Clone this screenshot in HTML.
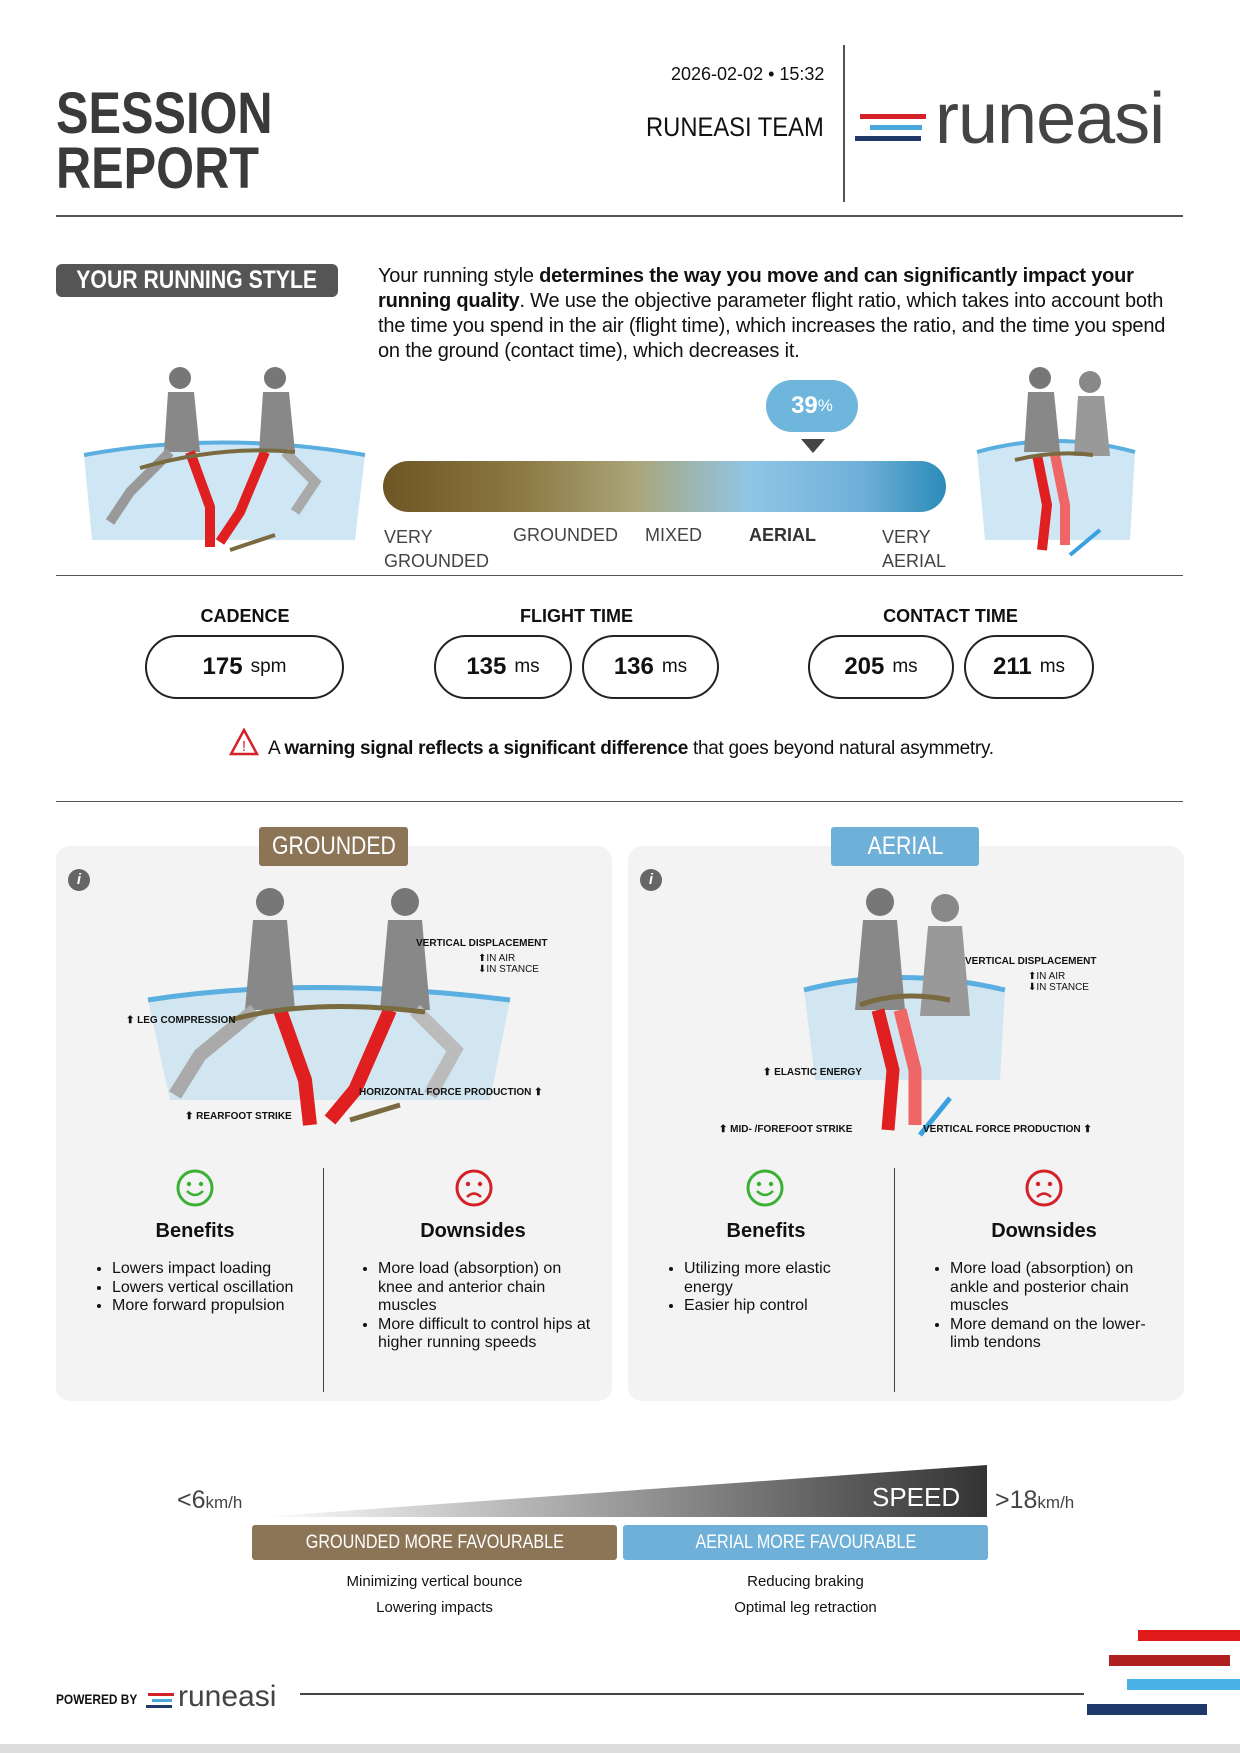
<!DOCTYPE html>
<html><head><meta charset="utf-8"><style>
*{margin:0;padding:0;box-sizing:border-box}
body{width:1240px;height:1753px;position:relative;background:#fff;font-family:"Liberation Sans",sans-serif;color:#111;overflow:hidden}
.a{position:absolute}
.rule{position:absolute;left:56px;width:1127px;height:2px;background:#555}
.pill{position:absolute;height:64px;border:2px solid #222;border-radius:32px;display:flex;align-items:center;justify-content:center;font-size:24px;font-weight:bold}
.pill span{font-size:19px;font-weight:normal;margin-left:8px}
.lab{position:absolute;font-size:18px;font-weight:bold;text-align:center}
.panel{position:absolute;top:846px;width:556px;height:555px;background:#f3f3f3;border-radius:14px}
.badge{position:absolute;color:#fff;font-size:25px;display:flex;align-items:center;justify-content:center;border-radius:3px}
.badge span{display:inline-block;transform:scaleX(0.85);white-space:nowrap}
.h{position:absolute;font-size:20px;font-weight:bold;text-align:center;width:250px}
ul{position:absolute;font-size:16px;line-height:18.5px;padding-left:22px}
.face{position:absolute;width:38px;height:38px}
.tiny{position:absolute;font-size:10px;font-weight:bold}
</style></head><body>
<div class="a" style="left:56px;top:86px;font-size:58px;font-weight:bold;line-height:55px;color:#3a3a3a;transform:scaleX(0.84);transform-origin:left top">SESSION<br>REPORT</div>
<div class="a" style="left:671px;top:64px;font-size:18px">2026-02-02 • 15:32</div>
<div class="a" style="left:646px;top:112px;font-size:27px;transform:scaleX(0.88);transform-origin:left top">RUNEASI TEAM</div>
<div class="a" style="left:843px;top:45px;width:2px;height:157px;background:#555"></div>
<div class="a" style="left:860px;top:114px;width:66px;height:5px;background:#d42027"></div>
<div class="a" style="left:870px;top:125px;width:52px;height:5px;background:#4aa9dc"></div>
<div class="a" style="left:855px;top:136px;width:66px;height:5px;background:#1f3a6a"></div>
<div class="a" style="left:935px;top:78px;font-size:72px;color:#444;letter-spacing:-1px">runeasi</div>
<div class="rule" style="top:215px"></div>

<div class="badge" style="left:56px;top:264px;width:282px;height:33px;background:#555;border-radius:6px;font-weight:bold;font-size:25px"><span>YOUR RUNNING STYLE</span></div>
<div class="a" style="left:378px;top:264px;width:800px;font-size:20px;line-height:25px;letter-spacing:-0.2px">Your running style <b>determines the way you move and can significantly impact your running quality</b>. We use the objective parameter flight ratio, which takes into account both the time you spend in the air (flight time), which increases the ratio, and the time you spend on the ground (contact time), which decreases it.</div>

<svg class="a" style="left:80px;top:360px" width="290" height="200">
<path d="M4 95 Q140 70 285 95 L275 180 L12 180Z" fill="#cfe6f4"/>
<path d="M4 95 Q140 70 285 95" stroke="#5aaee0" stroke-width="4" fill="none"/>
<circle cx="100" cy="18" r="11" fill="#777"/><path d="M88 32 h26 l6 60 h-36z" fill="#888"/>
<path d="M90 92 l-40 40 l-20 30" stroke="#999" stroke-width="10" fill="none"/><path d="M110 92 l20 55 l0 40" stroke="#e02020" stroke-width="10" fill="none"/>
<circle cx="195" cy="18" r="11" fill="#777"/><path d="M183 32 h26 l6 60 h-36z" fill="#888"/>
<path d="M185 92 l-25 60 l-20 30" stroke="#e02020" stroke-width="10" fill="none"/><path d="M205 92 l30 30 l-20 30" stroke="#aaa" stroke-width="10" fill="none"/>
<path d="M60 108 Q140 85 215 92" stroke="#7a6a40" stroke-width="4" fill="none"/>
<path d="M150 190 L195 175" stroke="#7a6a40" stroke-width="4"/>
</svg>
<svg class="a" style="left:975px;top:360px" width="165" height="210">
<path d="M2 92 Q80 70 160 92 L155 180 L10 180Z" fill="#cfe6f4"/>
<path d="M2 92 Q80 70 160 92" stroke="#5aaee0" stroke-width="4" fill="none"/>
<circle cx="65" cy="18" r="11" fill="#777"/><path d="M53 32 h26 l6 60 h-36z" fill="#888"/>
<circle cx="115" cy="22" r="11" fill="#888"/><path d="M103 36 h26 l6 60 h-36z" fill="#999"/>
<path d="M62 95 l10 50 l-5 45" stroke="#e02020" stroke-width="10" fill="none"/><path d="M80 95 l10 50 l0 40" stroke="#e66" stroke-width="10" fill="none"/>
<path d="M40 100 Q80 90 118 95" stroke="#7a6a40" stroke-width="4" fill="none"/>
<path d="M95 195 L125 170" stroke="#3aa0e0" stroke-width="4"/>
</svg>

<div class="a" style="left:766px;top:380px;width:92px;height:52px;border-radius:26px;background:#6fb6dd;color:#fff;font-size:24px;font-weight:bold;display:flex;align-items:center;justify-content:center">39<span style="font-size:17px;font-weight:normal">%</span></div>
<div class="a" style="left:801px;top:439px;width:0;height:0;border-left:12px solid transparent;border-right:12px solid transparent;border-top:14px solid #444"></div>
<div class="a" style="left:383px;top:461px;width:563px;height:51px;border-radius:26px;background:linear-gradient(90deg,#6e5524 0%,#8d7a45 25%,#aaa57a 45%,#8fc6e6 65%,#6fb0d8 85%,#2c8bb8 100%)"></div>
<div class="a" style="left:384px;top:525px;font-size:18px;line-height:24px;color:#444">VERY<br>GROUNDED</div>
<div class="a" style="left:513px;top:525px;font-size:18px;color:#444">GROUNDED</div>
<div class="a" style="left:645px;top:525px;font-size:18px;color:#444">MIXED</div>
<div class="a" style="left:749px;top:525px;font-size:18px;font-weight:bold;color:#333">AERIAL</div>
<div class="a" style="left:882px;top:525px;font-size:18px;line-height:24px;color:#444">VERY<br>AERIAL</div>
<div class="rule" style="top:575px;height:1px"></div>

<div class="lab" style="left:145px;top:606px;width:200px">CADENCE</div>
<div class="lab" style="left:434px;top:606px;width:285px">FLIGHT TIME</div>
<div class="lab" style="left:808px;top:606px;width:285px">CONTACT TIME</div>
<div class="pill" style="left:145px;top:635px;width:199px">175<span>spm</span></div>
<div class="pill" style="left:434px;top:635px;width:138px">135<span>ms</span></div>
<div class="pill" style="left:582px;top:635px;width:137px">136<span>ms</span></div>
<div class="pill" style="left:808px;top:635px;width:146px">205<span>ms</span></div>
<div class="pill" style="left:964px;top:635px;width:130px">211<span>ms</span></div>
<svg class="a" style="left:229px;top:728px" width="30" height="28"><path d="M15 2 L28 26 H2Z" fill="none" stroke="#d42027" stroke-width="2.5"/><text x="15" y="23" font-size="15" text-anchor="middle" fill="#d42027" font-family="Liberation Sans">!</text></svg>
<div class="a" style="left:268px;top:738px;font-size:19px;letter-spacing:-0.3px">A <b>warning signal reflects a significant difference</b> that goes beyond natural asymmetry.</div>
<div class="rule" style="top:801px;height:1px"></div>

<div class="panel" style="left:56px"></div>
<div class="panel" style="left:628px"></div>
<div class="badge" style="left:259px;top:827px;width:149px;height:39px;background:#8c7556"><span>GROUNDED</span></div>
<div class="badge" style="left:831px;top:827px;width:148px;height:39px;background:#6fb0d8"><span>AERIAL</span></div>
<div class="a" style="left:68px;top:869px;width:22px;height:22px;border-radius:50%;background:#666;color:#fff;font-size:15px;font-style:italic;font-weight:bold;text-align:center;line-height:22px">i</div>
<div class="a" style="left:640px;top:869px;width:22px;height:22px;border-radius:50%;background:#666;color:#fff;font-size:15px;font-style:italic;font-weight:bold;text-align:center;line-height:22px">i</div>

<svg class="a" style="left:140px;top:880px" width="400" height="250">
<path d="M8 120 Q170 95 370 120 L350 220 L30 220Z" fill="#d2e6f2"/>
<path d="M8 120 Q170 95 370 120" stroke="#5aaee0" stroke-width="5" fill="none"/>
<circle cx="130" cy="22" r="14" fill="#777"/><path d="M113 40 h34 l8 90 h-50z" fill="#888"/>
<path d="M115 130 l-55 45 l-25 40" stroke="#aaa" stroke-width="14" fill="none"/><path d="M140 130 l25 70 l5 45" stroke="#e02020" stroke-width="14" fill="none"/>
<circle cx="265" cy="22" r="14" fill="#777"/><path d="M248 40 h34 l8 90 h-50z" fill="#888"/>
<path d="M250 130 l-35 80 l-25 30" stroke="#e02020" stroke-width="14" fill="none"/><path d="M275 130 l40 40 l-25 45" stroke="#bbb" stroke-width="14" fill="none"/>
<path d="M90 140 Q170 118 285 132" stroke="#7a6a40" stroke-width="5" fill="none"/>
<path d="M210 240 L260 225" stroke="#7a6a40" stroke-width="5"/>
</svg>
<div class="tiny" style="left:416px;top:938px">VERTICAL DISPLACEMENT</div>
<div class="tiny" style="left:478px;top:953px;font-weight:normal">⬆IN AIR<br>⬇IN STANCE</div>
<div class="tiny" style="left:126px;top:1015px">⬆ LEG COMPRESSION</div>
<div class="tiny" style="left:359px;top:1087px">HORIZONTAL FORCE PRODUCTION ⬆</div>
<div class="tiny" style="left:185px;top:1111px">⬆ REARFOOT STRIKE</div>

<svg class="a" style="left:800px;top:880px" width="220" height="260">
<path d="M4 110 Q100 85 205 110 L200 200 L15 200Z" fill="#d2e6f2"/>
<path d="M4 110 Q100 85 205 110" stroke="#5aaee0" stroke-width="5" fill="none"/>
<circle cx="80" cy="22" r="14" fill="#777"/><path d="M63 40 h34 l8 90 h-50z" fill="#888"/>
<circle cx="145" cy="28" r="14" fill="#888"/><path d="M128 46 h34 l8 90 h-50z" fill="#999"/>
<path d="M78 130 l15 60 l-5 60" stroke="#e02020" stroke-width="13" fill="none"/><path d="M100 130 l15 60 l0 55" stroke="#e66" stroke-width="13" fill="none"/>
<path d="M60 125 Q100 110 150 120" stroke="#7a6a40" stroke-width="5" fill="none"/>
<path d="M120 255 L150 218" stroke="#3aa0e0" stroke-width="5"/>
</svg>
<div class="tiny" style="left:965px;top:956px">VERTICAL DISPLACEMENT</div>
<div class="tiny" style="left:1028px;top:971px;font-weight:normal">⬆IN AIR<br>⬇IN STANCE</div>
<div class="tiny" style="left:763px;top:1067px">⬆ ELASTIC ENERGY</div>
<div class="tiny" style="left:719px;top:1124px">⬆ MID- /FOREFOOT STRIKE</div>
<div class="tiny" style="left:923px;top:1124px">VERTICAL FORCE PRODUCTION ⬆</div>

<div class="a" style="left:323px;top:1168px;width:1px;height:224px;background:#444"></div>
<div class="a" style="left:894px;top:1168px;width:1px;height:224px;background:#444"></div>
<svg class="face" style="left:176px;top:1169px" viewBox="0 0 38 38"><circle cx="19" cy="19" r="17" fill="none" stroke="#3cb034" stroke-width="3"/><circle cx="13" cy="15" r="2.2" fill="#3cb034"/><circle cx="25" cy="15" r="2.2" fill="#3cb034"/><path d="M11 22 Q19 30 27 22" fill="none" stroke="#3cb034" stroke-width="2.5"/></svg>
<svg class="face" style="left:455px;top:1169px" viewBox="0 0 38 38"><circle cx="19" cy="19" r="17" fill="none" stroke="#d42027" stroke-width="3"/><circle cx="13" cy="15" r="2.2" fill="#d42027"/><circle cx="25" cy="15" r="2.2" fill="#d42027"/><path d="M12 28 Q19 21 26 28" fill="none" stroke="#d42027" stroke-width="2.5"/></svg>
<svg class="face" style="left:746px;top:1169px" viewBox="0 0 38 38"><circle cx="19" cy="19" r="17" fill="none" stroke="#3cb034" stroke-width="3"/><circle cx="13" cy="15" r="2.2" fill="#3cb034"/><circle cx="25" cy="15" r="2.2" fill="#3cb034"/><path d="M11 22 Q19 30 27 22" fill="none" stroke="#3cb034" stroke-width="2.5"/></svg>
<svg class="face" style="left:1025px;top:1169px" viewBox="0 0 38 38"><circle cx="19" cy="19" r="17" fill="none" stroke="#d42027" stroke-width="3"/><circle cx="13" cy="15" r="2.2" fill="#d42027"/><circle cx="25" cy="15" r="2.2" fill="#d42027"/><path d="M12 28 Q19 21 26 28" fill="none" stroke="#d42027" stroke-width="2.5"/></svg>
<div class="h" style="left:70px;top:1220px">Benefits</div>
<div class="h" style="left:348px;top:1220px">Downsides</div>
<div class="h" style="left:641px;top:1220px">Benefits</div>
<div class="h" style="left:919px;top:1220px">Downsides</div>
<ul style="left:90px;top:1260px;width:220px"><li>Lowers impact loading</li><li>Lowers vertical oscillation</li><li>More forward propulsion</li></ul>
<ul style="left:356px;top:1260px;width:240px"><li>More load (absorption) on<br>knee and anterior chain muscles</li><li>More difficult to control hips at higher running speeds</li></ul>
<ul style="left:662px;top:1260px;width:200px"><li>Utilizing more elastic energy</li><li>Easier hip control</li></ul>
<ul style="left:928px;top:1260px;width:225px"><li>More load (absorption) on ankle and posterior chain muscles</li><li>More demand on the lower-limb tendons</li></ul>

<svg class="a" style="left:259px;top:1465px" width="729" height="53"><defs><linearGradient id="g"><stop offset="0" stop-color="#fff"/><stop offset="1" stop-color="#333"/></linearGradient></defs><path d="M0 52 L728 0 L728 52Z" fill="url(#g)"/></svg>
<div class="a" style="left:872px;top:1482px;font-size:26px;color:#fff">SPEED</div>
<div class="a" style="left:177px;top:1486px;font-size:25px;color:#444">&lt;6<span style="font-size:17px">km/h</span></div>
<div class="a" style="left:995px;top:1486px;font-size:25px;color:#444">&gt;18<span style="font-size:17px">km/h</span></div>
<div class="badge" style="left:252px;top:1525px;width:365px;height:35px;background:#8c7556;font-size:19px"><span>GROUNDED MORE FAVOURABLE</span></div>
<div class="badge" style="left:623px;top:1525px;width:365px;height:35px;background:#6fb0d8;font-size:19px"><span>AERIAL MORE FAVOURABLE</span></div>
<div class="a" style="left:252px;top:1569px;width:365px;text-align:center;font-size:15px;line-height:26px">Minimizing vertical bounce<br>Lowering impacts</div>
<div class="a" style="left:623px;top:1569px;width:365px;text-align:center;font-size:15px;line-height:26px">Reducing braking<br>Optimal leg retraction</div>

<div class="a" style="left:56px;top:1691px;font-size:14px;font-weight:bold;transform:scaleX(0.85);transform-origin:left top">POWERED BY</div>
<div class="a" style="left:148px;top:1693px;width:26px;height:3px;background:#d42027"></div>
<div class="a" style="left:152px;top:1699px;width:20px;height:3px;background:#4aa9dc"></div>
<div class="a" style="left:146px;top:1705px;width:26px;height:3px;background:#1f3a6a"></div>
<div class="a" style="left:178px;top:1680px;font-size:30px;color:#444">runeasi</div>
<div class="a" style="left:300px;top:1693px;width:784px;height:2px;background:#444"></div>
<div class="a" style="left:1138px;top:1630px;width:102px;height:11px;background:#e01a1a"></div>
<div class="a" style="left:1109px;top:1655px;width:121px;height:11px;background:#b02020"></div>
<div class="a" style="left:1127px;top:1679px;width:113px;height:11px;background:#4ab2e6"></div>
<div class="a" style="left:1087px;top:1704px;width:120px;height:11px;background:#1f3a6a"></div>
<div class="a" style="left:0;top:1744px;width:1240px;height:9px;background:#ddd"></div>
</body></html>
